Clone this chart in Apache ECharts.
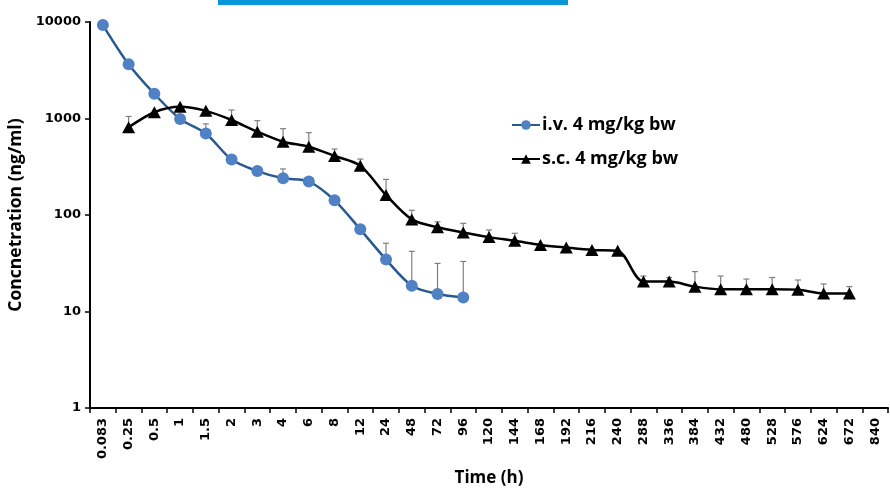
<!DOCTYPE html>
<html><head><meta charset="utf-8">
<script src="https://cdn.jsdelivr.net/npm/echarts@6/dist/echarts.min.js"></script>
<style>html,body{margin:0;padding:0;background:#fff}#c{width:890px;height:491px}</style>
</head><body><div id="c"></div>
<script>
const categories = ['0.083','0.25','0.5','1','1.5','2','3','4','6','8','12','24','48','72','96','120','144','168','192','216','240','288','336','384','432','480','528','576','624','672','840'];
const ivMean  = [9300,3650,1800,990,700,375,285,240,222,142,71,34.5,18.5,15.2,14.0,null,null,null,null,null,null,null,null,null,null,null,null,null,null,null,null];
const ivUpper = [null,null,null,null,880,null,null,300,null,null,null,51,42,31.5,33,null,null,null,null,null,null,null,null,null,null,null,null,null,null,null,null];
const scMean  = [null,810,1160,1320,1200,965,730,575,510,409,324,161,90,74.5,66,59,54,49,46,43.5,42.5,20.4,20.4,18.1,17,17,17,16.8,15.4,15.4,null];
const scUpper = [null,1050,null,null,null,1225,950,785,713,483,380,234,112,85,82,70,64.6,null,null,null,null,23.3,22.5,25.9,23.3,21.7,22.5,21.2,19.3,18.1,null];
const ivName = 'i.v. 4 mg/kg bw';
const scName = 's.c. 4 mg/kg bw';

function errData(mean, upper){
  const out = [];
  for (let i = 0; i < mean.length; i++) {
    if (mean[i] != null && upper[i] != null) out.push([i, mean[i], upper[i]]);
  }
  return out;
}
function errRender(params, api){
  const p0 = api.coord([api.value(0), api.value(1)]);
  const p1 = api.coord([api.value(0), api.value(2)]);
  const st = {stroke:'#808080', lineWidth:1.2};
  return {type:'group', children:[
    {type:'line', shape:{x1:p0[0],y1:p0[1],x2:p1[0],y2:p1[1]}, style:st},
    {type:'line', shape:{x1:p1[0]-3,y1:p1[1],x2:p1[0]+3,y2:p1[1]}, style:st}
  ]};
}
const F = 'DejaVu Sans';
const chart = echarts.init(document.getElementById('c'));
chart.setOption({
  animation:false,
  backgroundColor:'#fff',
  graphic:[{type:'rect', left:218, top:0, shape:{width:350,height:5}, style:{fill:'#0797d8'}}],
  grid:{left:90, right:2, top:22, bottom:83, containLabel:false, outerBoundsMode:'none'},
  legend:{
    orient:'vertical', left:506, top:111, itemGap:16, itemWidth:28, itemHeight:12,
    data:[ivName, scName],
    textStyle:{fontFamily:'Open Sans', fontWeight:'bold', fontSize:18, color:'#000', padding:[0,0,0,-3]}
  },
  xAxis:{
    type:'category', data:categories, boundaryGap:true,
    name:'Time (h)', nameLocation:'middle', nameGap:62,
    nameTextStyle:{fontFamily:'Open Sans', fontWeight:'bold', fontSize:17, color:'#000'},
    axisLine:{lineStyle:{color:'#000', width:2}},
    axisTick:{show:true, length:5, lineStyle:{color:'#000', width:1.5}},
    axisLabel:{rotate:90, interval:0, fontFamily:F, fontWeight:'bold', fontSize:13, color:'#000', margin:10}
  },
  yAxis:{
    type:'log', logBase:10, min:1, max:10000,
    name:'Concnetration (ng/ml)', nameLocation:'middle', nameGap:62,
    nameTextStyle:{fontFamily:'Open Sans', fontWeight:'bold', fontSize:17.5, color:'#000'},
    axisLine:{show:true, lineStyle:{color:'#000', width:2}},
    axisTick:{show:true, length:5, lineStyle:{color:'#000', width:1.5}},
    splitLine:{show:false},
    axisLabel:{fontFamily:F, fontWeight:'bold', fontSize:13, color:'#000', margin:9,
      formatter: v => String(Math.round(v))}
  },
  series:[
    {type:'custom', name:'ivErr', data:errData(ivMean, ivUpper), renderItem:errRender, z:1, silent:true},
    {type:'custom', name:'scErr', data:errData(scMean, scUpper), renderItem:errRender, z:1, silent:true},
    {type:'line', name:ivName, data:ivMean, smooth:0.3, z:3,
     lineStyle:{color:'#28598f', width:2.5},
     itemStyle:{color:'#4f81c4'}, symbol:'circle', symbolSize:12, showAllSymbol:true},
    {type:'line', name:scName, data:scMean, smooth:0.3, z:4,
     lineStyle:{color:'#000', width:2.5},
     itemStyle:{color:'#000'}, symbol:'triangle', symbolSize:[13,12], showAllSymbol:true}
  ]
});
</script></body></html>
